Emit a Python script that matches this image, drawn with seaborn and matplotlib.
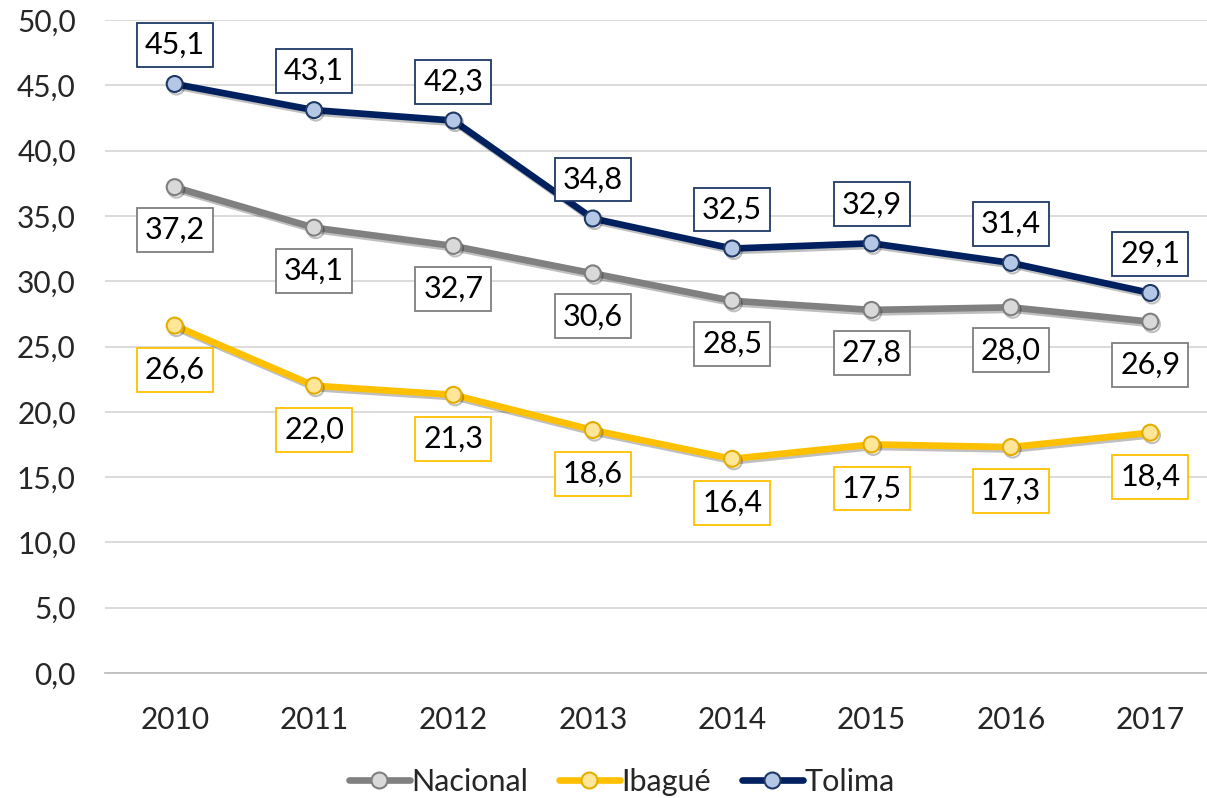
import matplotlib
matplotlib.use("Agg")
import matplotlib.pyplot as plt
import matplotlib.patheffects as pe
from matplotlib.lines import Line2D
import seaborn as sns
import pandas as pd

years = ["2010", "2011", "2012", "2013", "2014", "2015", "2016", "2017"]
nacional = [37.2, 34.1, 32.7, 30.6, 28.5, 27.8, 28.0, 26.9]
ibague = [26.6, 22.0, 21.3, 18.6, 16.4, 17.5, 17.3, 18.4]
tolima = [45.1, 43.1, 42.3, 34.8, 32.5, 32.9, 31.4, 29.1]
series_names = ["Nacional", "Ibagué", "Tolima"]
y_ticks = [0, 5, 10, 15, 20, 25, 30, 35, 40, 45, 50]

sns.set_theme(style="white")
plt.rcParams["font.family"] = ["Lato", "DejaVu Sans"]

styles = {
    "Nacional": dict(line="#808080", face="#D9D9D9", edge="#7F7F7F", box="#7F7F7F", off=-43),
    "Ibagué": dict(line="#FFC000", face="#FFE699", edge="#E5AC00", box="#FFC000", off=-44),
    "Tolima": dict(line="#002060", face="#B4C7E7", edge="#1F3864", box="#1F3864", off=39),
}
values = {"Nacional": nacional, "Ibagué": ibague, "Tolima": tolima}

fig = plt.figure(figsize=(12.07, 7.98), dpi=100)
ax = fig.add_axes([105 / 1207, 1 - 673 / 798, 1115 / 1207, 653 / 798])

shadow = [pe.SimpleLineShadow(offset=(1.2, -1.8), alpha=0.25, shadow_color="black"), pe.Normal()]
for name in series_names:
    st = styles[name]
    df = pd.DataFrame({"x": list(range(len(years))), "y": values[name]})
    sns.lineplot(data=df, x="x", y="y", ax=ax, color=st["line"], linewidth=4.8,
                 marker="o", markersize=11.5, markerfacecolor=st["face"],
                 markeredgecolor=st["edge"], markeredgewidth=1.5, zorder=3,
                 path_effects=shadow, legend=False)
    for i, v in enumerate(values[name]):
        ax.annotate(f"{v:.1f}".replace(".", ","), (i, v), xytext=(0, st["off"] * 0.72),
                    textcoords="offset points", ha="center", va="center",
                    fontsize=22, color="black", zorder=5,
                    bbox=dict(boxstyle="square,pad=0.26", fc="white", ec=st["box"], lw=1.3))

ax.set_xlim(-0.5, len(years) - 0.5)
ax.set_ylim(0, 50)
ax.set_yticks(y_ticks)
ax.set_yticklabels([f"{t:.1f}".replace(".", ",") for t in y_ticks], fontsize=21.5)
ax.set_xticks(range(len(years)))
ax.set_xticklabels(years, fontsize=21.5)
ax.tick_params(axis="x", length=0, pad=24)
ax.tick_params(axis="y", length=0, pad=21)
ax.set_xticks([i - 0.5 for i in range(len(years) + 1)], minor=True)
ax.tick_params(axis="x", which="minor", length=7, color="#BFBFBF", width=1.2, direction="out")
ax.set_xlabel("")
ax.set_ylabel("")
ax.grid(axis="y", color="#D9D9D9", linewidth=1.3)
ax.grid(axis="x", visible=False)
for s in ["top", "right", "left"]:
    ax.spines[s].set_visible(False)
ax.spines["bottom"].set_color("#BFBFBF")
ax.spines["bottom"].set_linewidth(1.3)

handles = [Line2D([0], [0], color=styles[n]["line"], lw=4.8, marker="o", markersize=11.5,
                  markerfacecolor=styles[n]["face"], markeredgecolor=styles[n]["edge"],
                  markeredgewidth=1.5) for n in series_names]
fig.legend(handles, series_names, loc="center", bbox_to_anchor=(0.515, 1 - 782 / 798),
           ncol=3, frameon=False, fontsize=22, handlelength=2.0, handletextpad=0.05,
           columnspacing=1.0)

fig.savefig("out.png", dpi=100)
